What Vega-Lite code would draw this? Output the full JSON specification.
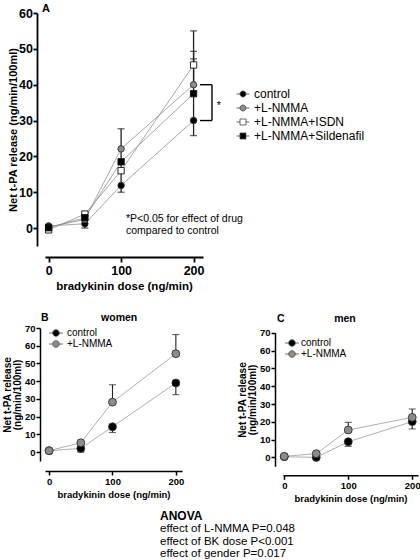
{
  "$schema": "https://vega.github.io/schema/vega-lite/v6.json",
  "padding": {"top": 3, "left": 2, "right": 0, "bottom": 0},
  "bounds": "flush",
  "spacing": 82,
  "resolve": {"scale": {"fill": "independent", "stroke": "independent"}, "legend": {"fill": "independent", "stroke": "independent"}},
  "config": {
    "font": "Liberation Sans",
    "view": {"stroke": null},
    "axis": {"grid": false, "labelOverlap": false, "tickCount": 20, "domainColor": "#000", "tickColor": "#000", "labelColor": "#000", "titleColor": "#000", "labelFont": "Liberation Sans", "titleFont": "Liberation Sans", "labelFontWeight": "bold", "titleFontWeight": "bold"},
    "legend": {"labelFont": "Liberation Sans", "labelColor": "#000"},
    "title": {"font": "Liberation Sans", "color": "#000", "fontWeight": "bold", "frame": "group"}
  },
  "datasets": {
    "a": [
      {"group": "control", "dose": 0, "v": 0.6}, {"group": "control", "dose": 50, "v": 1.2}, {"group": "control", "dose": 100, "v": 11.9}, {"group": "control", "dose": 200, "v": 30.0},
      {"group": "+L-NMMA", "dose": 0, "v": 0.3}, {"group": "+L-NMMA", "dose": 50, "v": 2.4}, {"group": "+L-NMMA", "dose": 100, "v": 22.1}, {"group": "+L-NMMA", "dose": 200, "v": 40.0},
      {"group": "+L-NMMA+ISDN", "dose": 0, "v": -0.5}, {"group": "+L-NMMA+ISDN", "dose": 50, "v": 3.9}, {"group": "+L-NMMA+ISDN", "dose": 100, "v": 16.0}, {"group": "+L-NMMA+ISDN", "dose": 200, "v": 45.5},
      {"group": "+L-NMMA+Sildenafil", "dose": 0, "v": 0.1}, {"group": "+L-NMMA+Sildenafil", "dose": 50, "v": 2.9}, {"group": "+L-NMMA+Sildenafil", "dose": 100, "v": 18.5}, {"group": "+L-NMMA+Sildenafil", "dose": 200, "v": 37.5}
    ],
    "aerr": [
      {"dose": 50, "lo": 0.0, "hi": 1.2, "cap": 0.0},
      {"dose": 100, "lo": 10.0, "hi": 11.9, "cap": 10.0},
      {"dose": 100, "lo": 11.9, "hi": 22.1, "cap": null},
      {"dose": 100, "lo": 22.1, "hi": 27.7, "cap": 27.7},
      {"dose": 200, "lo": 25.8, "hi": 30.0, "cap": 25.8},
      {"dose": 200, "lo": 30.0, "hi": 37.5, "cap": null},
      {"dose": 200, "lo": 37.5, "hi": 47.2, "cap": 47.2},
      {"dose": 200, "lo": 40.0, "hi": 49.3, "cap": 49.3},
      {"dose": 200, "lo": 45.5, "hi": 55.0, "cap": 55.0}
    ],
    "w": [
      {"group": "control", "dose": 0, "v": 0.8}, {"group": "control", "dose": 50, "v": 2.1}, {"group": "control", "dose": 100, "v": 14.3}, {"group": "control", "dose": 200, "v": 39.0},
      {"group": "+L-NMMA", "dose": 0, "v": 0.8}, {"group": "+L-NMMA", "dose": 50, "v": 5.3}, {"group": "+L-NMMA", "dose": 100, "v": 28.2}, {"group": "+L-NMMA", "dose": 200, "v": 55.5}
    ],
    "werr": [
      {"dose": 50, "lo": 0.0, "hi": 2.1, "cap": 0.0},
      {"dose": 100, "lo": 11.1, "hi": 14.3, "cap": 11.1},
      {"dose": 200, "lo": 32.4, "hi": 39.0, "cap": 32.4},
      {"dose": 100, "lo": 28.2, "hi": 38.0, "cap": 38.0},
      {"dose": 200, "lo": 55.5, "hi": 66.3, "cap": 66.3}
    ],
    "m": [
      {"group": "control", "dose": 0, "v": 0.4}, {"group": "control", "dose": 50, "v": 0.0}, {"group": "control", "dose": 100, "v": 8.8}, {"group": "control", "dose": 200, "v": 20.1},
      {"group": "+L-NMMA", "dose": 0, "v": 0.6}, {"group": "+L-NMMA", "dose": 50, "v": 2.1}, {"group": "+L-NMMA", "dose": 100, "v": 15.4}, {"group": "+L-NMMA", "dose": 200, "v": 22.5}
    ],
    "merr": [
      {"dose": 100, "lo": 6.2, "hi": 8.8, "cap": 6.2},
      {"dose": 200, "lo": 16.0, "hi": 20.1, "cap": 16.0},
      {"dose": 100, "lo": 15.4, "hi": 19.7, "cap": 19.7},
      {"dose": 200, "lo": 22.5, "hi": 27.2, "cap": 27.2}
    ]
  },
  "vconcat": [
    {
      "width": 158,
      "height": 233,
      "title": {"text": "A", "anchor": "start", "dx": -3, "offset": -7, "fontSize": 11},
      "resolve": {"scale": {"fill": "independent"}, "legend": {"fill": "independent"}},
      "layer": [
        {
          "data": {"name": "a"},
          "mark": {"type": "line", "stroke": "#8f8f8f", "strokeWidth": 0.8},
          "encoding": {
            "x": {"field": "dose", "type": "quantitative", "scale": {"domain": [-5, 213], "nice": false, "zero": false}, "axis": {"values": [0, 100, 200], "offset": 11, "title": "bradykinin dose (ng/min)", "labelFontSize": 12.5, "titleFontSize": 11.5, "tickSize": 5, "domainWidth": 1.8, "tickWidth": 1.8, "labelPadding": 2, "titlePadding": 4}},
            "y": {"field": "v", "type": "quantitative", "scale": {"domain": [-5, 60], "nice": false, "zero": false}, "axis": {"values": [0, 10, 20, 30, 40, 50, 60], "tickCount": 20, "labelOverlap": false, "offset": 8, "title": "Net t-PA release (ng/min/100ml)", "labelFontSize": 12.5, "titleFontSize": 11, "tickSize": 4, "domainWidth": 1.8, "tickWidth": 1.8, "labelPadding": 0.5, "titlePadding": 0}},
            "detail": {"field": "group"}
          }
        },
        {
          "data": {"name": "aerr"},
          "mark": {"type": "rule", "color": "#222", "strokeWidth": 1.3},
          "encoding": {
            "x": {"field": "dose", "type": "quantitative"},
            "y": {"field": "lo", "type": "quantitative"},
            "y2": {"field": "hi"}
          }
        },
        {
          "data": {"name": "aerr"},
          "mark": {"type": "tick", "orient": "horizontal", "size": 7, "thickness": 1.3, "color": "#222"},
          "encoding": {
            "x": {"field": "dose", "type": "quantitative"},
            "y": {"field": "cap", "type": "quantitative"}
          }
        },
        {
          "data": {"name": "a"},
          "transform": [{"filter": "datum.group === 'control' || datum.group === '+L-NMMA'"}],
          "mark": {"type": "circle", "size": 42, "stroke": "#333", "strokeWidth": 0.9, "opacity": 1},
          "encoding": {
            "x": {"field": "dose", "type": "quantitative"},
            "y": {"field": "v", "type": "quantitative"},
            "fill": {"field": "group", "type": "nominal", "scale": {"domain": ["control", "+L-NMMA"], "range": ["#000000", "#8c8c8c"]},
              "legend": {"title": null, "orient": "none", "legendX": 191, "legendY": 74, "symbolType": "M-1,0H-0.46M0.46,0H1M-0.46,0A0.46,0.46,0,1,0,0.46,0A0.46,0.46,0,1,0,-0.46,0Z", "symbolSize": 169, "symbolStrokeColor": "#444", "symbolStrokeWidth": 0.8, "labelFontSize": 12, "labelOffset": 4, "rowPadding": 1, "padding": 0}}
          }
        },
        {
          "data": {"name": "a"},
          "transform": [{"filter": "datum.group === '+L-NMMA+ISDN' || datum.group === '+L-NMMA+Sildenafil'"}],
          "mark": {"type": "square", "size": 40, "stroke": "#111", "strokeWidth": 0.9, "opacity": 1},
          "encoding": {
            "x": {"field": "dose", "type": "quantitative"},
            "y": {"field": "v", "type": "quantitative"},
            "fill": {"field": "group", "type": "nominal", "scale": {"domain": ["+L-NMMA+ISDN", "+L-NMMA+Sildenafil"], "range": ["#ffffff", "#000000"]},
              "legend": {"title": null, "orient": "none", "legendX": 191, "legendY": 102, "symbolType": "M-1,0H-0.46M0.46,0H1M-0.46,-0.46H0.46V0.46H-0.46Z", "symbolSize": 169, "symbolStrokeColor": "#444", "symbolStrokeWidth": 0.8, "labelFontSize": 12, "labelOffset": 4, "rowPadding": 1, "padding": 0}}
          }
        },
        {
          "data": {"values": [
            {"dose": 208.9, "dose2": 225.4, "v": 40, "v2": 40},
            {"dose": 208.9, "dose2": 225.4, "v": 30, "v2": 30},
            {"dose": 225.4, "dose2": 225.4, "v": 30, "v2": 40}
          ]},
          "mark": {"type": "rule", "color": "#000", "strokeWidth": 1.4},
          "encoding": {
            "x": {"field": "dose", "type": "quantitative"},
            "x2": {"field": "dose2"},
            "y": {"field": "v", "type": "quantitative"},
            "y2": {"field": "v2"}
          }
        },
        {
          "data": {"values": [
            {"dose": 231.9, "v": 34.0, "t": "*"},
            {"dose": 106.8, "v": 2.6, "t": "*P<0.05 for effect of drug"},
            {"dose": 106.8, "v": -0.8, "t": "compared to control"}
          ]},
          "mark": {"type": "text", "align": "left", "baseline": "middle", "fontSize": 10.5, "font": "Liberation Sans", "color": "#000"},
          "encoding": {
            "x": {"field": "dose", "type": "quantitative"},
            "y": {"field": "v", "type": "quantitative"},
            "text": {"field": "t"}
          }
        }
      ]
    },
    {
      "bounds": "flush",
      "spacing": 101,
      "resolve": {"scale": {"fill": "independent"}, "legend": {"fill": "independent"}},
      "title": {"text": "ANOVA", "subtitle": ["effect of L-NMMA P=0.048", "effect of BK dose P<0.001", "effect of gender P=0.017"], "orient": "bottom", "anchor": "start", "dx": 115, "offset": 8, "fontSize": 12, "subtitleFontSize": 11.5, "subtitleFont": "Liberation Sans", "subtitleFontWeight": "normal", "subtitleColor": "#000", "subtitleLineHeight": 12.5, "subtitlePadding": 0},
      "hconcat": [
        {
          "width": 137,
          "height": 133,
          "title": {"text": "B\u00a0\u00a0\u00a0\u00a0\u00a0\u00a0\u00a0\u00a0\u00a0\u00a0\u00a0\u00a0\u00a0\u00a0\u00a0\u00a0\u00a0\u00a0women", "anchor": "start", "dx": -4, "offset": 0, "fontSize": 10.5},
          "layer": [
            {
              "data": {"name": "w"},
              "mark": {"type": "line", "stroke": "#9a9a9a", "strokeWidth": 0.8},
              "encoding": {
                "x": {"field": "dose", "type": "quantitative", "scale": {"domain": [-6.5, 209.7], "nice": false, "zero": false}, "axis": {"values": [0, 100, 200], "offset": 10, "title": "bradykinin dose (ng/min)", "labelFontSize": 9.5, "titleFontSize": 9.5, "tickSize": 4, "domainWidth": 1.5, "tickWidth": 1.5, "labelPadding": 1, "titlePadding": 4}},
                "y": {"field": "v", "type": "quantitative", "scale": {"domain": [-5, 70], "nice": false, "zero": false}, "axis": {"values": [0, 10, 20, 30, 40, 50, 60, 70], "tickCount": 20, "labelOverlap": false, "offset": 5, "title": ["Net t-PA release", "(ng/min/100ml)"], "labelFontSize": 9.5, "titleFontSize": 10, "titleLineHeight": 9.5, "tickSize": 4, "domainWidth": 1.5, "tickWidth": 1.5, "labelPadding": 1, "titlePadding": 2}},
                "detail": {"field": "group"}
              }
            },
            {
              "data": {"name": "werr"},
              "mark": {"type": "rule", "color": "#222", "strokeWidth": 1.1},
              "encoding": {
                "x": {"field": "dose", "type": "quantitative"},
                "y": {"field": "lo", "type": "quantitative"},
                "y2": {"field": "hi"}
              }
            },
            {
              "data": {"name": "werr"},
              "mark": {"type": "tick", "orient": "horizontal", "size": 7, "thickness": 1.1, "color": "#222"},
              "encoding": {
                "x": {"field": "dose", "type": "quantitative"},
                "y": {"field": "cap", "type": "quantitative"}
              }
            },
            {
              "data": {"name": "w"},
              "mark": {"type": "circle", "size": 62, "stroke": "#333", "strokeWidth": 0.9, "opacity": 1},
              "encoding": {
                "x": {"field": "dose", "type": "quantitative"},
                "y": {"field": "v", "type": "quantitative"},
                "fill": {"field": "group", "type": "nominal", "scale": {"domain": ["control", "+L-NMMA"], "range": ["#000000", "#8c8c8c"]},
                  "legend": {"title": null, "orient": "none", "legendX": 5, "legendY": -1, "symbolType": "M-1.25,0H-0.6M0.6,0H1.25M-0.6,0A0.6,0.6,0,1,0,0.6,0A0.6,0.6,0,1,0,-0.6,0Z", "symbolSize": 121, "symbolStrokeColor": "#444", "symbolStrokeWidth": 0.8, "labelFontSize": 10, "labelOffset": 5, "rowPadding": 0, "padding": 0}}
              }
            }
          ]
        },
        {
          "width": 135,
          "height": 138.3,
          "title": {"text": "C\u00a0\u00a0\u00a0\u00a0\u00a0\u00a0\u00a0\u00a0\u00a0\u00a0\u00a0\u00a0\u00a0\u00a0\u00a0\u00a0\u00a0men", "anchor": "start", "dx": -6, "offset": 3, "fontSize": 10.5},
          "layer": [
            {
              "data": {"name": "m"},
              "mark": {"type": "line", "stroke": "#9a9a9a", "strokeWidth": 0.8},
              "encoding": {
                "x": {"field": "dose", "type": "quantitative", "scale": {"domain": [-2, 209], "nice": false, "zero": false}, "axis": {"values": [0, 100, 200], "offset": 9, "title": "bradykinin dose (ng/min)", "labelFontSize": 9.5, "titleFontSize": 9.5, "tickSize": 4, "domainWidth": 1.5, "tickWidth": 1.5, "labelPadding": 1, "titlePadding": 4}},
                "y": {"field": "v", "type": "quantitative", "scale": {"domain": [-5, 70], "range": [138.3, 4.8], "nice": false, "zero": false}, "axis": {"values": [0, 10, 20, 30, 40, 50, 60, 70], "tickCount": 20, "labelOverlap": false, "offset": 8, "title": ["Net t-PA release", "(ng/min/100ml)"], "labelFontSize": 9.5, "titleFontSize": 10, "titleLineHeight": 9.5, "tickSize": 4, "domainWidth": 1.5, "tickWidth": 1.5, "labelPadding": 1, "titlePadding": 2}},
                "detail": {"field": "group"}
              }
            },
            {
              "data": {"name": "merr"},
              "mark": {"type": "rule", "color": "#222", "strokeWidth": 1.1},
              "encoding": {
                "x": {"field": "dose", "type": "quantitative"},
                "y": {"field": "lo", "type": "quantitative"},
                "y2": {"field": "hi"}
              }
            },
            {
              "data": {"name": "merr"},
              "mark": {"type": "tick", "orient": "horizontal", "size": 7, "thickness": 1.1, "color": "#222"},
              "encoding": {
                "x": {"field": "dose", "type": "quantitative"},
                "y": {"field": "cap", "type": "quantitative"}
              }
            },
            {
              "data": {"name": "m"},
              "mark": {"type": "circle", "size": 62, "stroke": "#333", "strokeWidth": 0.9, "opacity": 1},
              "encoding": {
                "x": {"field": "dose", "type": "quantitative"},
                "y": {"field": "v", "type": "quantitative"},
                "fill": {"field": "group", "type": "nominal", "scale": {"domain": ["control", "+L-NMMA"], "range": ["#000000", "#8c8c8c"]},
                  "legend": {"title": null, "orient": "none", "legendX": 3, "legendY": 9, "symbolType": "M-1.25,0H-0.6M0.6,0H1.25M-0.6,0A0.6,0.6,0,1,0,0.6,0A0.6,0.6,0,1,0,-0.6,0Z", "symbolSize": 121, "symbolStrokeColor": "#444", "symbolStrokeWidth": 0.8, "labelFontSize": 10, "labelOffset": 3, "rowPadding": 0, "padding": 0}}
              }
            }
          ]
        }
      ]
    }
  ]
}
